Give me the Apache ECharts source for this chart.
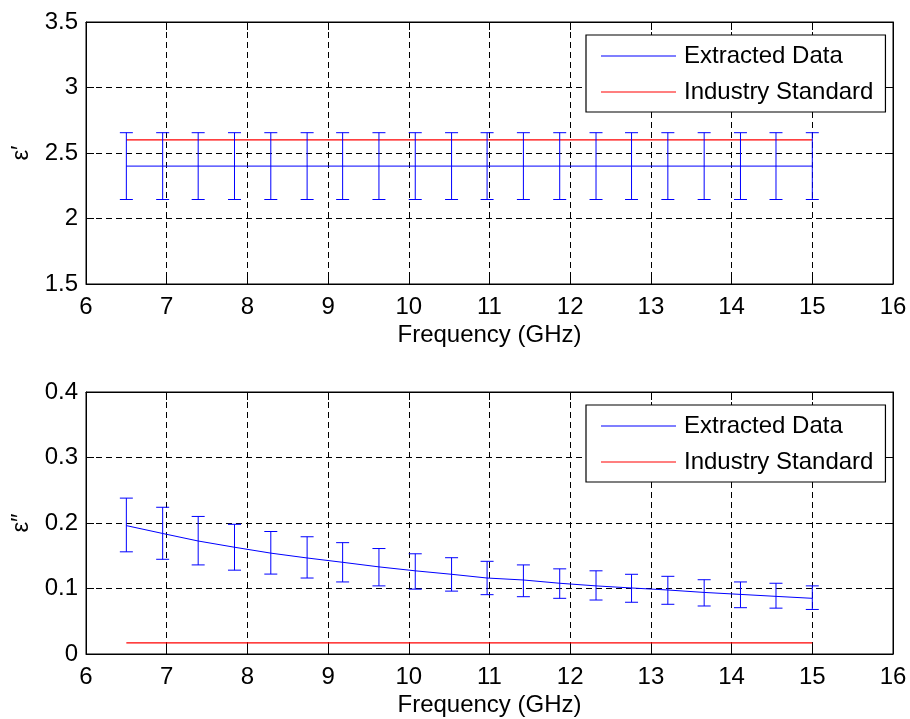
<!DOCTYPE html>
<html>
<head>
<meta charset="utf-8">
<script src="https://cdn.jsdelivr.net/npm/echarts@6/dist/echarts.min.js"></script>
<style>
html,body{margin:0;padding:0;background:#fff;overflow:hidden;}
#chart{width:910px;height:719px;}
</style>
</head>
<body>
<div id="chart"></div>
<script>
// ---- data ----
var freq = [6.50, 6.95, 7.39, 7.84, 8.29, 8.74, 9.18, 9.63, 10.08, 10.53, 10.97, 11.42, 11.87, 12.32, 12.76, 13.21, 13.66, 14.11, 14.55, 15.00];
var epsReal = [2.40, 2.40, 2.40, 2.40, 2.40, 2.40, 2.40, 2.40, 2.40, 2.40, 2.40, 2.40, 2.40, 2.40, 2.40, 2.40, 2.40, 2.40, 2.40, 2.40];
var epsRealLow = [2.145, 2.145, 2.145, 2.145, 2.145, 2.145, 2.145, 2.145, 2.145, 2.145, 2.145, 2.145, 2.145, 2.145, 2.145, 2.145, 2.145, 2.145, 2.145, 2.145];
var epsRealHigh = [2.655, 2.655, 2.655, 2.655, 2.655, 2.655, 2.655, 2.655, 2.655, 2.655, 2.655, 2.655, 2.655, 2.655, 2.655, 2.655, 2.655, 2.655, 2.655, 2.655];
var epsImag = [0.196, 0.184, 0.1725, 0.163, 0.154, 0.1466, 0.140, 0.133, 0.127, 0.1217, 0.116, 0.113, 0.108, 0.104, 0.1008, 0.0977, 0.094, 0.091, 0.088, 0.085];
var epsImagHigh = [0.238, 0.224, 0.210, 0.198, 0.187, 0.179, 0.170, 0.161, 0.153, 0.147, 0.1415, 0.136, 0.130, 0.127, 0.1217, 0.1186, 0.1134, 0.110, 0.108, 0.104];
var epsImagLow = [0.156, 0.1446, 0.136, 0.128, 0.122, 0.116, 0.110, 0.104, 0.099, 0.096, 0.0906, 0.0875, 0.085, 0.0824, 0.079, 0.0759, 0.0733, 0.0707, 0.0700, 0.068];
var stdFreq = [6.5, 15.0];
var stdReal = [2.6, 2.6];
var stdImag = [0.017, 0.017];
var xTicks = {min: 6, max: 16, interval: 1};
var yRealTicks = {min: 1.5, max: 3.5, interval: 0.5};
var yImagTicks = {min: 0, max: 0.4, interval: 0.1};
var names = ['Extracted Data', 'Industry Standard'];

// ---- helpers ----
function pairs(xs, ys) { return xs.map(function (x, i) { return [x, ys[i]]; }); }
function triples(xs, lo, hi) { return xs.map(function (x, i) { return [x, lo[i], hi[i]]; }); }

var FONT = 'Liberation Sans, Arial, sans-serif';
var FS = 24;
var BLUE = '#0000ff';
var RED = '#ff0000';

function errRender(params, api) {
  var x = api.value(0);
  var lo = api.coord([x, api.value(1)]);
  var hi = api.coord([x, api.value(2)]);
  var hw = 6.5;
  var st = {stroke: BLUE, lineWidth: 1};
  return {
    type: 'group',
    children: [
      {type: 'line', shape: {x1: lo[0], y1: lo[1], x2: hi[0], y2: hi[1]}, style: st},
      {type: 'line', shape: {x1: lo[0] - hw, y1: lo[1], x2: lo[0] + hw, y2: lo[1]}, style: st},
      {type: 'line', shape: {x1: hi[0] - hw, y1: hi[1], x2: hi[0] + hw, y2: hi[1]}, style: st}
    ]
  };
}

var dash = [6, 4];
function makeX(gi) {
  return {
    type: 'value', gridIndex: gi, min: xTicks.min, max: xTicks.max, interval: xTicks.interval,
    name: 'Frequency (GHz)', nameLocation: 'middle', nameGap: 39,
    nameTextStyle: {color: '#000', fontSize: FS, fontFamily: FONT},
    axisLine: {show: true, onZero: false, lineStyle: {color: '#000', width: 1}},
    axisTick: {show: true, inside: true, length: 8, lineStyle: {color: '#000'}},
    axisLabel: {color: '#000', fontSize: FS, fontFamily: FONT, margin: 11},
    splitLine: {show: true, lineStyle: {color: '#000', type: dash, width: 1}}
  };
}
function makeXTop(gi) {
  return {
    type: 'value', gridIndex: gi, position: 'top', min: xTicks.min, max: xTicks.max, interval: xTicks.interval,
    axisLine: {show: true, onZero: false, lineStyle: {color: '#000', width: 1}},
    axisTick: {show: true, inside: true, length: 8, lineStyle: {color: '#000'}},
    axisLabel: {show: false}, splitLine: {show: false}
  };
}
function makeY(gi, t, nm) {
  return {
    type: 'value', gridIndex: gi, min: t.min, max: t.max, interval: t.interval,
    name: nm, nameLocation: 'middle', nameGap: 53, nameRotate: 90,
    nameTextStyle: {color: '#000', fontSize: FS, fontFamily: FONT},
    axisLine: {show: true, onZero: false, lineStyle: {color: '#000', width: 1}},
    axisTick: {show: true, inside: true, length: 8, lineStyle: {color: '#000'}},
    axisLabel: {color: '#000', fontSize: FS, fontFamily: FONT, margin: 8},
    splitLine: {show: true, lineStyle: {color: '#000', type: dash, width: 1}}
  };
}
function makeYRight(gi, t) {
  return {
    type: 'value', gridIndex: gi, position: 'right', min: t.min, max: t.max, interval: t.interval,
    axisLine: {show: true, onZero: false, lineStyle: {color: '#000', width: 1}},
    axisTick: {show: true, inside: true, length: 8, lineStyle: {color: '#000'}},
    axisLabel: {show: false}, splitLine: {show: false}
  };
}
function makeLegend(top) {
  return {
    data: names, left: 586, top: top, orient: 'vertical',
    icon: 'rect', itemWidth: 75, itemHeight: 1.2, itemGap: 12,
    padding: [9, 12, 8, 15],
    backgroundColor: '#fff', borderColor: '#000', borderWidth: 1.2,
    textStyle: {color: '#000', fontSize: FS, fontFamily: FONT, padding: [0, 0, 0, 3]},
    selectedMode: false
  };
}

var chart = echarts.init(document.getElementById('chart'), null, {renderer: 'canvas', width: 910, height: 719});
chart.setOption({
  animation: false,
  backgroundColor: '#fff',
  grid: [
    {left: 86, right: 17, top: 22, bottom: 435, show: true, borderColor: '#000', borderWidth: 1, backgroundColor: 'transparent'},
    {left: 86, right: 17, top: 392, bottom: 65, show: true, borderColor: '#000', borderWidth: 1, backgroundColor: 'transparent'}
  ],
  xAxis: [makeX(0), makeX(1), makeXTop(0), makeXTop(1)],
  yAxis: [makeY(0, yRealTicks, 'ε′'), makeY(1, yImagTicks, 'ε″'), makeYRight(0, yRealTicks), makeYRight(1, yImagTicks)],
  legend: [makeLegend(35), makeLegend(405)],
  series: [
    {name: names[1], type: 'line', xAxisIndex: 0, yAxisIndex: 0, data: pairs(stdFreq, stdReal), symbol: 'none', lineStyle: {color: RED, width: 1.2}, itemStyle: {color: RED}, z: 3},
    {name: names[0], type: 'line', xAxisIndex: 0, yAxisIndex: 0, data: pairs(freq, epsReal), symbol: 'none', lineStyle: {color: BLUE, width: 1}, itemStyle: {color: BLUE}, z: 4},
    {type: 'custom', xAxisIndex: 0, yAxisIndex: 0, data: triples(freq, epsRealLow, epsRealHigh), renderItem: errRender, encode: {x: 0, y: [1, 2]}, z: 4},
    {name: names[1], type: 'line', xAxisIndex: 1, yAxisIndex: 1, data: pairs(stdFreq, stdImag), symbol: 'none', lineStyle: {color: RED, width: 1.2}, itemStyle: {color: RED}, z: 3},
    {name: names[0], type: 'line', xAxisIndex: 1, yAxisIndex: 1, data: pairs(freq, epsImag), symbol: 'none', lineStyle: {color: BLUE, width: 1}, itemStyle: {color: BLUE}, z: 4},
    {type: 'custom', xAxisIndex: 1, yAxisIndex: 1, data: triples(freq, epsImagLow, epsImagHigh), renderItem: errRender, encode: {x: 0, y: [1, 2]}, z: 4}
  ]
});
</script>
</body>
</html>
